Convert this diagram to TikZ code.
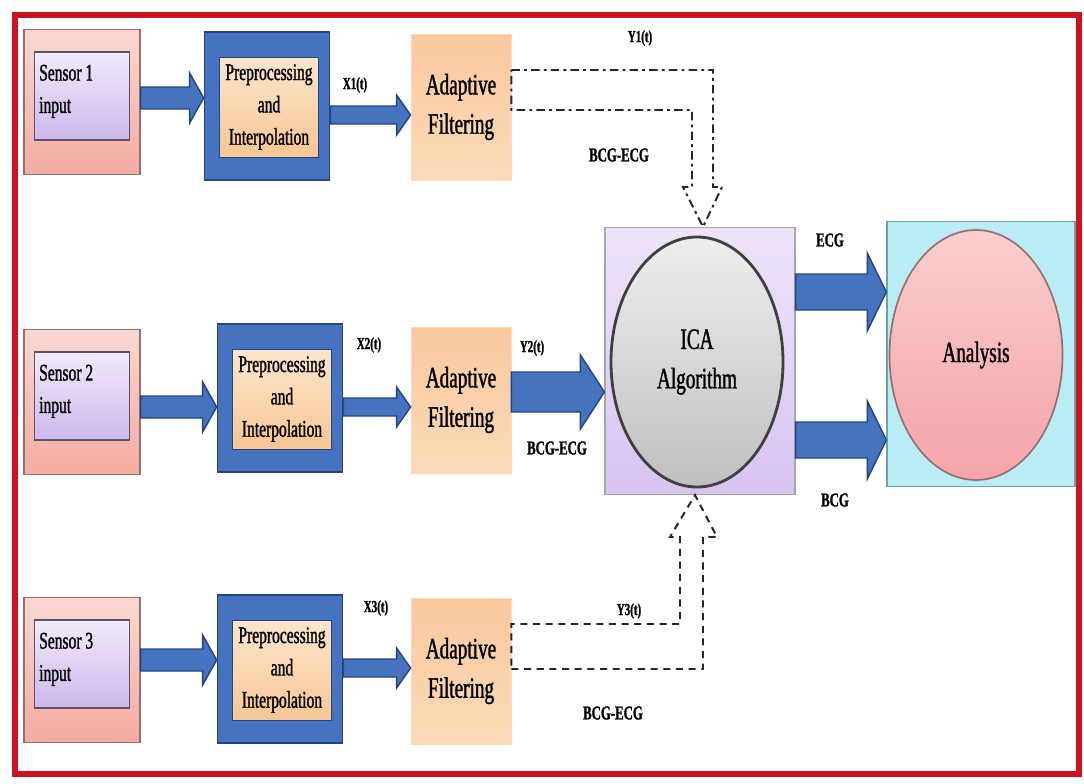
\documentclass[tikz,border=0pt]{standalone}
\usepackage{fontspec}
\setmainfont{Liberation Serif}[FakeStretch=0.65, FakeBold=1.2]
\usetikzlibrary{positioning, calc, shapes.geometric}

\definecolor{frame red}{RGB}{204,18,30}
\definecolor{pink top}{RGB}{251,214,208}
\definecolor{pink bot}{RGB}{244,172,162}
\definecolor{pink line}{RGB}{150,112,110}
\definecolor{lav top}{RGB}{242,234,252}
\definecolor{lav bot}{RGB}{204,184,236}
\definecolor{lav line}{RGB}{92,82,104}
\definecolor{blk blue}{RGB}{70,115,192}
\definecolor{blk line}{RGB}{38,68,124}
\definecolor{peach top}{RGB}{252,230,204}
\definecolor{peach bot}{RGB}{247,198,148}
\definecolor{filt top}{RGB}{249,200,158}
\definecolor{filt bot}{RGB}{251,218,184}
\definecolor{ica top}{RGB}{238,228,250}
\definecolor{ica bot}{RGB}{214,196,240}
\definecolor{grey top}{RGB}{238,238,238}
\definecolor{grey bot}{RGB}{192,192,192}
\definecolor{cyan fill}{RGB}{186,236,246}
\definecolor{cyan line}{RGB}{112,160,170}
\definecolor{rose top}{RGB}{251,206,206}
\definecolor{rose bot}{RGB}{244,164,170}

\def\pxl{0.025cm}  % one reference pixel

% block arrow: start coordinate, target node anchor, shaft half, head half, head length
\newcommand{\blockarrow}[5]{%
  \draw[block arrow]
    ($(#1)+(0,-#3)$) -- ($(#1 -| #2)+(-#5,-#3)$) -- ($(#1 -| #2)+(-#5,-#4)$)
    -- (#1 -| #2) -- ($(#1 -| #2)+(-#5,#4)$) -- ($(#1 -| #2)+(-#5,#3)$)
    -- ($(#1)+(0,#3)$) -- cycle;}

\begin{document}
\begin{tikzpicture}[
    x=0.025cm, y=-0.025cm,
    font=\fontsize{17}{23}\selectfont,
    sensor box/.style={draw=pink line, line width=0.8pt, top color=pink top,
                       bottom color=pink bot, minimum width={116*\pxl},
                       minimum height={145*\pxl}, inner sep=0pt},
    sensor in/.style={draw=lav line, line width=0.8pt, top color=lav top,
                      bottom color=lav bot, minimum width={95*\pxl},
                      minimum height={88*\pxl}, inner sep=0pt},
    sensor text/.style={anchor=north west, align=left, inner sep=0pt,
                        text=black},
    pre box/.style={draw=blk line, line width=1.2pt, fill=blk blue,
                    minimum width={125*\pxl}, minimum height={148*\pxl},
                    inner sep=0pt},
    pre in/.style={draw=blk line, line width=0.6pt, top color=peach top,
                   bottom color=peach bot, minimum width={99*\pxl},
                   minimum height={100*\pxl}, inner sep=1pt, align=center,
                   text=black},
    filt box/.style={draw=orange!30, line width=0.6pt, top color=filt top,
                     bottom color=filt bot, minimum width={100*\pxl},
                     minimum height={146*\pxl}, inner sep=1pt, align=center,
                     font=\fontsize{21}{28}\selectfont, text=black},
    block arrow/.style={draw=blk line, line width=1pt, fill=blk blue,
                        line join=miter},
    sig label/.style={font=\bfseries\fontsize{12}{12}\selectfont, text=black},
    band label/.style={font=\bfseries\fontsize{14}{14}\selectfont, text=black},
    feed line/.style={black!85, line width=1.4pt},
]

% --- background and bounding box ---
\path[fill=white] (0,0) rectangle (1084,783);
\useasboundingbox (0,0) rectangle (1084,783);

% =====================================================================
%  INPUT ROWS: sensor -> preprocessing -> adaptive filtering
% =====================================================================
\foreach \i/\ys/\xp/\yp/\yf/\ya/\yb in {1/102/267/106/107/98/115,
                                      2/402/280/398/400/407/407,
                                      3/670/280/669/671/660/668} {
    \node[sensor box] (so\i) at (82,\ys) {};
    \node[sensor in] (si\i) at ([shift={(0,-6)}]so\i.center) {};
    \node[sensor text] (st\i) at ([shift={(5,13)}]si\i.north west)
        {Sensor \i\\input};

    \node[pre box] (po\i) at (\xp,\yp) {};
    \node[pre in] (pp\i) at ([shift={(2,1)}]po\i.center)
        {Preprocessing\\and\\Interpolation};

    \node[filt box] (af\i) at (461,\yf) {Adaptive\\Filtering};

    % --- row arrows ---
    \coordinate (sa\i) at (so\i.east |- 0,\ya);
    \coordinate (pa\i) at (po\i.east |- 0,\yb);
    \blockarrow{sa\i}{po\i.west}{11}{25}{14}
    \blockarrow{pa\i}{af\i.west}{9}{20}{14}
}

% --- signal labels ---
\node[sig label] (x1) at (355,85) {X1(t)};
\node[sig label] (x2) at (369,345) {X2(t)};
\node[sig label] (x3) at (376,608) {X3(t)};

% =====================================================================
%  ICA AND ANALYSIS
% =====================================================================
\node[draw=gray!70, line width=0.8pt, top color=ica top, bottom color=ica bot,
      minimum width={190*\pxl}, minimum height={267*\pxl}] (ica) at (700,361) {};
\node[ellipse, draw=black!75, line width=2pt, top color=grey top,
      bottom color=grey bot, minimum width={172*\pxl}, minimum height={250*\pxl},
      inner sep=0pt, align=center, font=\fontsize{21}{28}\selectfont,
      text=black] (icac) at (697,362) {ICA\\Algorithm};

\node[draw=cyan line, line width=1pt, fill=cyan fill,
      minimum width={188*\pxl}, minimum height={265*\pxl}] (ana) at (981,354) {};
\node[ellipse, draw=pink line, line width=1.2pt, top color=rose top,
      bottom color=rose bot, minimum width={173*\pxl}, minimum height={250*\pxl},
      inner sep=0pt, font=\fontsize{21}{28}\selectfont, text=black]
      (anac) at (976,355) {Analysis};

% --- Y2 straight into ICA ---
\coordinate (fa2) at (af2.east |- 0,392);
\blockarrow{fa2}{ica.west}{20}{37}{24}
\node[sig label] (y2) at (532,348) {Y2(t)};
\node[band label] (b2) at (557,448) {BCG-ECG};

% --- ICA outputs ---
\coordinate (ie) at (ica.east |- 0,292);
\coordinate (ib) at (ica.east |- 0,440);
\blockarrow{ie}{ana.west}{18}{39}{19}
\blockarrow{ib}{ana.west}{18}{39}{19}
\node[band label] (ecg) at (830,240) {ECG};
\node[band label] (bcg) at (835,500) {BCG};

% =====================================================================
%  FEEDBACK OUTLINES (rows 1 and 3)
% =====================================================================
\draw[feed line, dash pattern=on 6pt off 3pt on 2pt off 3pt]
    (af1.east |- 0,70) -- (713,70) -- (713,187) -- (722,187)
    -- (ica.north -| 703,0) -- (683,187) -- (692,187) -- (692,110)
    -- (af1.east |- 0,110) -- cycle;
\node[sig label] (y1) at (640,38) {Y1(t)};
\node[band label] (b1) at (619,155) {BCG-ECG};

\draw[feed line, dash pattern=on 5pt off 4pt]
    (af3.east |- 0,669) -- (703,669) -- (703,537) -- (717,537)
    -- (ica.south -| 695,0) -- (670,537) -- (680,537) -- (680,624)
    -- (af3.east |- 0,624) -- cycle;
\node[sig label] (y3) at (629,611) {Y3(t)};
\node[band label] (b3) at (613,713) {BCG-ECG};

% --- red frame ---
\draw[frame red, line width=4.5pt] (15,15) rectangle (1079,774);

\end{tikzpicture}
\end{document}
